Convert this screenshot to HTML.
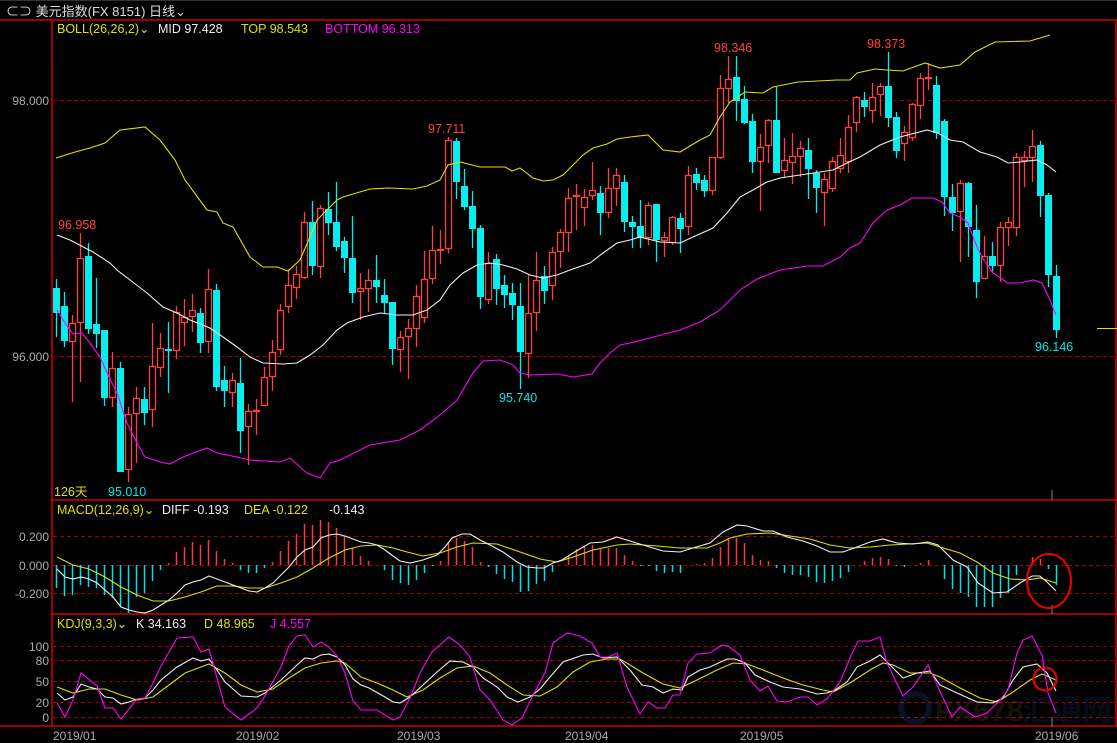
<!DOCTYPE html>
<html><head><meta charset="utf-8"><style>
html,body{margin:0;padding:0;background:#000;width:1117px;height:743px;overflow:hidden}
svg{display:block}
text{font-family:"Liberation Sans","Noto Sans CJK SC",sans-serif}
</style></head><body>
<svg id="s" width="1117" height="743" xmlns="http://www.w3.org/2000/svg">
<rect width="1117" height="743" fill="#000"/>
<line x1="0" y1="0.5" x2="1117" y2="0.5" stroke="#333"/>
<text x="6" y="16" fill="#ddd" font-size="13">⊂⊃ 美元指数(FX 8151)   日线⌄</text>
<g stroke="#d00000" stroke-width="1.5" fill="none">
<line x1="0" y1="20" x2="1117" y2="20"/>
<line x1="52" y1="20" x2="52" y2="726"/>
<line x1="1116" y1="20" x2="1116" y2="726"/>
<line x1="52" y1="500" x2="1117" y2="500"/>
<line x1="52" y1="614" x2="1117" y2="614"/>
<line x1="0" y1="726" x2="1117" y2="726"/>
</g>
<g stroke="#a00000" stroke-dasharray="4,3" stroke-width="1">
<line x1="53" y1="100.5" x2="1116" y2="100.5"/><line x1="53" y1="356.5" x2="1116" y2="356.5"/>
<line x1="53" y1="536.5" x2="1116" y2="536.5"/><line x1="53" y1="565.5" x2="1116" y2="565.5"/><line x1="53" y1="593.5" x2="1116" y2="593.5"/>
<line x1="53" y1="646.5" x2="1116" y2="646.5"/><line x1="53" y1="660.5" x2="1116" y2="660.5"/><line x1="53" y1="681.5" x2="1116" y2="681.5"/><line x1="53" y1="702.5" x2="1116" y2="702.5"/><line x1="53" y1="717.5" x2="1116" y2="717.5"/>
</g>
<g fill="#aaa" font-size="12" text-anchor="end">
<text x="49" y="105">98.000</text><text x="49" y="361">96.000</text>
<text x="49" y="541">0.200</text><text x="49" y="570">0.000</text><text x="49" y="598">-0.200</text>
<text x="49" y="651">100</text><text x="49" y="665">80</text><text x="49" y="686">50</text><text x="49" y="707">20</text><text x="49" y="722">0</text>
</g>
<g fill="#aaa" font-size="12">
<text x="53" y="740">2019/01</text><text x="236" y="740">2019/02</text><text x="397" y="740">2019/03</text><text x="565" y="740">2019/04</text><text x="740" y="740">2019/05</text><text x="1035" y="740">2019/06</text>
</g>
<g stroke="#888"><line x1="1052" y1="490" x2="1052" y2="500"/><line x1="1052" y1="605" x2="1052" y2="614"/><line x1="1052" y1="717" x2="1052" y2="727"/></g>
<g font-size="12.5">
<text x="57" y="33" fill="#e0e000">BOLL(26,26,2)⌄</text><text x="158" y="33" fill="#eee">MID 97.428</text><text x="241" y="33" fill="#e0e000">TOP 98.543</text><text x="325" y="33" fill="#ff00ff">BOTTOM 96.313</text>
<text x="57" y="514" fill="#e0e000">MACD(12,26,9)⌄</text><text x="162" y="514" fill="#eee">DIFF -0.193</text><text x="244" y="514" fill="#e0e000">DEA -0.122</text><text x="329" y="514" fill="#eee">-0.143</text>
<text x="57" y="628" fill="#e0e000">KDJ(9,3,3)⌄</text><text x="136" y="628" fill="#eee">K 34.163</text><text x="204" y="628" fill="#e0e000">D 48.965</text><text x="270" y="628" fill="#ff00ff">J 4.557</text>
</g>
<g font-size="12.5">
<text x="58" y="229" fill="#ff4040">96.958</text><text x="428" y="133" fill="#ff4040">97.711</text><text x="714" y="52" fill="#ff4040">98.346</text><text x="867" y="48" fill="#ff4040">98.373</text>
<text x="499" y="402" fill="#00e8e8">95.740</text><text x="108" y="496" fill="#00e8e8">95.010</text><text x="1035" y="351" fill="#00e8e8">96.146</text>
<text x="54" y="496" fill="#e0e000">126天</text>
</g>
<line x1="1097" y1="328.5" x2="1117" y2="328.5" stroke="#e0e000"/>
<g opacity="0.22" font-size="30" font-weight="bold">
<circle cx="915" cy="708" r="14" fill="none" stroke="#3050a0" stroke-width="6"/>
<text x="935" y="721" fill="#705020">FX678</text><text x="1022" y="721" fill="#203a70">汇通网</text>
</g>
<g id="ind"></g>
<ellipse cx="1049" cy="581" rx="22" ry="27" fill="none" stroke="#ee0000" stroke-width="2"/>
<circle cx="1045" cy="679" r="11.5" fill="none" stroke="#ee0000" stroke-width="2"/>
</svg>
<script>
var C=[[288,313,279,337,0],[306,341,292,347,0],[323,342,315,402,1],[258,323,233,382,1],[256,329,243,334,0],[324,334,278,348,0],[330,398,330,406,0],[368,398,352,407,1],[368,472,362,472,0],[414,470,407,482,1],[398,414,387,463,1],[399,413,387,425,0],[366,410,323,427,1],[348,368,333,377,1],[349,351,322,393,0],[312,351,306,359,1],[317,323,299,346,1],[310,317,294,332,1],[313,343,308,353,0],[289,342,269,353,1],[290,387,284,391,0],[380,391,366,407,0],[380,393,373,407,1],[383,431,358,453,0],[411,427,404,465,1],[410,412,399,435,1],[377,406,367,406,1],[352,377,340,391,1],[310,350,304,355,1],[285,307,269,313,1],[274,288,266,299,1],[222,278,212,279,1],[222,266,201,275,0],[208,267,205,278,1],[209,223,192,235,0],[222,247,182,251,0],[241,258,237,273,0],[258,293,216,303,0],[288,292,273,320,1],[280,289,269,312,1],[280,287,255,303,0],[295,303,279,313,0],[302,349,302,365,0],[337,350,331,372,1],[328,337,319,379,1],[296,329,285,347,1],[279,318,251,323,1],[250,279,226,284,1],[249,251,230,264,1],[140,249,137,253,1],[141,182,138,199,0],[186,207,169,210,0],[206,229,191,248,0],[228,297,225,309,0],[263,300,252,304,1],[259,289,254,305,0],[285,295,275,308,0],[293,305,283,320,0],[306,352,283,389,0],[313,354,275,378,1],[280,313,252,331,1],[276,291,266,304,0],[252,286,247,300,1],[232,252,229,268,1],[198,233,188,252,1],[195,197,184,230,1],[197,208,189,226,1],[190,196,162,200,1],[193,213,186,235,0],[188,213,168,218,1],[175,189,168,206,1],[182,222,175,232,0],[222,227,216,248,0],[226,238,200,248,0],[205,238,202,245,1],[204,240,204,262,0],[237,241,232,257,1],[217,243,216,245,1],[218,229,213,253,0],[175,227,166,235,1],[174,183,168,190,0],[180,191,175,197,0],[157,191,157,195,1],[88,158,75,159,1],[79,89,56,103,1],[77,101,56,121,0],[99,123,86,124,0],[121,162,114,173,0],[147,162,134,211,1],[120,146,119,163,1],[120,173,87,173,0],[160,171,138,178,1],[156,163,133,184,1],[148,157,141,177,1],[150,169,138,199,0],[173,188,170,213,0],[179,193,173,226,1],[161,189,157,192,1],[155,169,138,173,1],[127,162,115,173,1],[97,123,96,132,1],[100,107,92,117,0],[97,111,83,123,1],[86,95,83,116,1],[86,118,52,127,0],[117,151,112,158,0],[132,144,126,161,1],[104,138,103,141,1],[78,106,73,119,1],[77,79,63,90,1],[85,133,76,139,0],[121,197,119,216,0],[197,213,184,231,0],[183,212,180,262,1],[183,227,182,257,0],[230,282,205,298,0],[256,279,236,279,1],[256,266,242,273,0],[227,266,222,282,1],[222,228,217,246,1],[157,228,153,236,1],[157,161,151,187,1],[146,158,130,182,1],[145,196,141,217,0],[195,275,193,287,0],[276,330,265,338,0]];
var H=[588,596,595,585,587,588,595,598,607,613,597,593,581,570,563,552,547,542,545,540,551,559,563,570,573,573,568,562,551,541,534,524,525,520,522,528,536,548,556,561,565,570,580,583,585,580,573,566,561,543,538,541,547,562,567,574,579,582,592,591,584,581,572,565,555,549,546,545,548,548,548,555,561,566,566,571,573,572,573,565,564,563,558,547,539,538,543,555,560,561,568,573,575,575,577,582,583,581,578,572,565,561,558,557,559,566,567,565,563,560,565,579,589,593,597,607,607,607,598,593,575,565,557,559,569,585];
var L={
up:"56,158 75,152 90,148 105,143 120,130 145,127 160,140 175,160 185,180 207,210 217,212 223,223 233,227 250,257 263,267 277,267 288,271 300,260 310,237 317,220 327,210 337,200 343,197 370,189 388,188 413,189 427,186 440,180 448,165 460,162 480,167 505,167 512,171 520,168 533,178 543,181 553,180 563,175 583,155 593,148 607,144 617,139 630,137 648,135 663,150 680,152 700,140 710,135 720,117 730,102 745,92 763,93 773,87 798,82 837,80 850,80 857,73 875,69 887,70 903,71 925,63 940,68 960,65 975,52 995,42 1030,41 1050,35",
mid:"57,235 70,240 93,252 110,263 117,270 130,280 147,293 163,307 177,313 190,320 210,328 223,337 237,347 250,357 263,363 283,364 297,363 310,355 323,345 337,330 347,323 363,317 380,313 397,315 413,315 427,310 440,300 450,285 463,273 477,265 490,263 503,265 517,269 530,275 543,278 557,275 570,270 590,263 603,253 617,243 630,240 640,237 660,242 680,243 693,237 713,228 727,213 740,197 753,190 767,182 780,178 800,175 820,172 833,170 847,163 860,157 880,145 900,137 927,130 938,133 950,140 963,142 980,152 997,157 1008,163 1020,162 1037,160 1047,165 1056,172",
bot:"57,310 65,323 73,334 82,333 90,343 100,357 108,375 117,393 127,423 137,443 145,457 160,462 170,464 183,457 207,448 217,453 237,457 250,460 280,462 290,458 300,467 307,473 320,478 330,463 340,460 370,445 400,440 420,430 440,415 457,400 473,373 483,361 500,360 513,365 520,373 530,375 557,374 573,377 592,374 600,363 610,353 620,345 630,343 650,338 680,330 700,322 720,310 740,290 757,279 780,270 807,266 823,266 840,257 850,248 860,243 873,223 887,210 900,205 912,198 933,198 942,202 950,213 960,217 968,223 977,247 982,257 993,273 1008,283 1020,283 1033,280 1042,283 1050,300 1056,315",
dif:"57,569 65,577 73,579 81,577 89,579 97,583 105,590 113,597 121,607 129,610 137,612 145,613 153,610 161,605 169,600 177,593 185,585 193,582 201,580 209,576 217,579 225,582 233,585 241,588 249,591 257,592 265,588 273,583 281,575 289,567 297,557 305,550 313,547 321,538 329,535 337,534 345,536 353,539 361,542 369,543 377,545 385,550 393,556 400,561 410,563 423,560 437,555 445,547 452,538 462,534 470,534 480,540 490,545 503,552 517,562 527,567 537,568 544,568 553,563 562,560 573,553 590,543 603,542 617,537 630,541 643,545 663,551 680,552 693,548 710,543 723,532 737,525 747,526 763,531 773,531 787,537 803,541 817,546 830,552 843,552 857,547 870,542 883,539 897,543 913,544 928,542 938,545 953,560 967,567 978,583 993,593 1007,592 1020,583 1032,576 1040,576 1047,582 1056,591",
dea:"57,557 73,565 89,569 105,577 121,587 137,595 153,601 169,601 185,597 201,592 217,586 233,586 249,588 265,588 281,583 297,577 313,568 329,558 345,550 361,546 377,545 393,548 407,552 423,556 440,553 457,547 473,543 497,544 523,553 540,559 557,562 573,557 593,550 617,545 630,544 657,546 680,548 707,548 720,543 730,538 747,534 770,533 790,536 810,539 830,545 850,548 870,547 890,545 927,543 940,547 960,553 977,562 993,573 1010,579 1027,580 1040,578 1056,583",
k:"57,693 65,700 73,697 81,684 89,687 97,689 105,697 113,698 121,704 129,702 137,699 145,698 153,690 161,680 177,667 193,658 201,661 209,659 217,670 225,682 241,696 257,697 265,693 281,680 297,665 305,658 313,659 321,655 329,654 337,657 345,665 353,679 361,685 369,688 385,697 393,702 400,703 410,697 423,685 437,672 450,661 463,662 473,667 483,678 497,687 507,697 518,702 530,697 540,689 550,677 563,662 583,655 593,654 603,658 617,657 630,670 642,685 653,687 663,693 673,689 682,690 688,677 700,670 710,667 727,659 735,659 745,663 755,675 770,682 783,687 800,689 817,694 827,693 835,690 847,682 857,667 870,661 880,655 890,665 903,678 917,673 930,671 940,685 957,693 977,702 993,703 1003,698 1013,680 1023,667 1037,664 1047,673 1056,691",
d:"57,687 73,693 89,689 105,689 121,695 137,700 153,697 169,685 185,673 201,667 209,664 225,673 241,685 257,692 273,689 289,678 305,668 321,663 337,661 345,663 361,677 377,683 393,690 407,697 423,690 440,678 457,668 473,666 490,673 507,685 523,695 540,696 557,687 573,672 590,662 607,659 620,659 630,665 643,673 663,684 680,688 697,680 717,670 733,663 747,664 763,670 783,678 803,685 823,690 833,692 850,683 870,670 883,663 893,665 910,673 930,673 940,677 960,688 980,698 997,702 1013,692 1030,680 1042,674 1056,680",
j:"57,703 65,717 73,700 81,673 97,686 105,708 113,708 121,719 137,699 145,698 153,683 161,666 169,652 177,638 193,637 201,652 209,649 225,707 241,720 257,708 265,696 281,667 289,646 297,636 305,635 313,647 321,642 329,647 337,656 345,673 353,701 361,710 377,710 393,720 400,717 410,698 420,673 432,652 449,637 460,645 470,657 480,690 490,700 503,720 512,725 522,718 532,697 545,673 553,643 567,633 580,636 592,643 600,657 608,657 617,653 627,687 640,714 648,702 657,708 665,708 673,695 680,695 688,663 697,654 710,653 722,645 728,646 740,655 750,680 760,691 768,686 777,701 787,702 800,697 808,697 817,705 827,699 840,682 850,658 858,641 870,641 880,637 887,663 903,696 913,687 928,665 938,687 952,717 960,707 975,717 987,713 1000,700 1008,690 1017,653 1023,640 1032,636 1042,655 1048,693 1056,713"};
var s='';
for(var i=0;i<H.length;i++){var x=56+8*i+0.5,y=H[i];s+='<line x1="'+x+'" y1="565" x2="'+x+'" y2="'+y+'" stroke="'+(y>565?'#00e0e8':'#ff3838')+'" stroke-width="1.5"/>';}
for(var i=0;i<C.length;i++){var c=C[i],x=56+8*i,col=c[4]?'#ff4040':'#00f0f0';
s+='<line x1="'+(x+0.5)+'" y1="'+c[2]+'" x2="'+(x+0.5)+'" y2="'+c[3]+'" stroke="'+col+'" stroke-width="1.3"/>';
var h=c[1]-c[0];
if(h<2){s+='<line x1="'+(x-3)+'" y1="'+(c[0]+0.5)+'" x2="'+(x+4)+'" y2="'+(c[0]+0.5)+'" stroke="'+col+'" stroke-width="2"/>';}
else if(c[4]){s+='<rect x="'+(x-2.5)+'" y="'+(c[0]+0.5)+'" width="6" height="'+(h-1)+'" fill="#000" stroke="'+col+'" stroke-width="1.3"/>';}
else{s+='<rect x="'+(x-3)+'" y="'+c[0]+'" width="7" height="'+h+'" fill="'+col+'"/>';}}
function pl(p,c){return '<polyline points="'+p+'" fill="none" stroke="'+c+'" stroke-width="1.1"/>';}
s+=pl(L.up,'#e0e000')+pl(L.mid,'#f0f0f0')+pl(L.bot,'#ff00ff')+pl(L.dea,'#e0e000')+pl(L.dif,'#f0f0f0')+pl(L.d,'#e0e000')+pl(L.k,'#f0f0f0')+pl(L.j,'#ff00ff');
document.getElementById('ind').innerHTML=s;
</script>
</body></html>
